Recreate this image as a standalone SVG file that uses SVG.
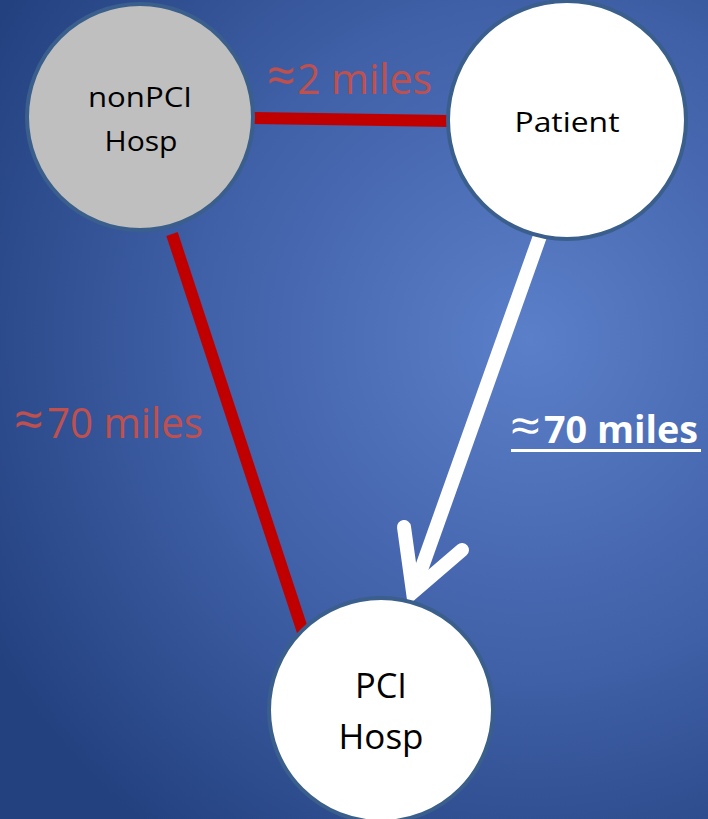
<svg xmlns="http://www.w3.org/2000/svg" width="708" height="819" viewBox="0 0 708 819">
<defs>
<radialGradient id="bg" cx="530" cy="340" r="620" gradientUnits="userSpaceOnUse">
<stop offset="0" stop-color="#5b7fc9"/>
<stop offset="0.55" stop-color="#3f5fa6"/>
<stop offset="1" stop-color="#23417f"/>
</radialGradient>
<style>
.node{stroke:#3a5f8c;stroke-width:4}
.nt{font-family:"Open Sans","Liberation Sans",sans-serif;fill:#000;text-anchor:middle}
.red{stroke:#c00000;stroke-width:12;fill:none}
.lbl{font-family:"Open Sans","Liberation Sans",sans-serif;fill:#c0504d}
</style>
</defs>
<rect width="708" height="819" fill="url(#bg)"/>
<g id="connectors">
<line class="red" x1="250" y1="118" x2="448" y2="121"/>
<line class="red" x1="172" y1="234" x2="303" y2="632"/>
<line x1="540" y1="236" x2="416" y2="584" stroke="#fff" stroke-width="14"/>
<polyline points="404,527 413,592 462,550" fill="none" stroke="#fff" stroke-width="14" stroke-linecap="round" stroke-linejoin="miter"/>
<text class="lbl" y="94" font-size="42"><tspan x="267" font-size="52" textLength="29" lengthAdjust="spacingAndGlyphs">≈</tspan><tspan x="297" textLength="135" lengthAdjust="spacingAndGlyphs">2 miles</tspan></text>
<text class="lbl" y="438" font-size="42"><tspan x="14" font-size="52" textLength="30" lengthAdjust="spacingAndGlyphs">≈</tspan><tspan x="47" textLength="156" lengthAdjust="spacingAndGlyphs">70 miles</tspan></text>
<text y="443" font-size="38" font-weight="bold" fill="#fff" font-family="'Open Sans','Liberation Sans',sans-serif"><tspan x="510" font-size="48" font-weight="normal" textLength="31" lengthAdjust="spacingAndGlyphs">≈</tspan><tspan x="544" textLength="154" lengthAdjust="spacingAndGlyphs">70 miles</tspan></text>
<rect x="511" y="449" width="190" height="3" fill="#fff"/>
</g>
<g id="nonPCI">
<circle class="node" cx="140" cy="117" r="113" fill="#bfbfbf"/>
<text class="nt" x="140" y="107" font-size="28" textLength="104" lengthAdjust="spacingAndGlyphs">nonPCI</text>
<text class="nt" x="141" y="151" font-size="28" textLength="73" lengthAdjust="spacingAndGlyphs">Hosp</text>
</g>
<g id="patient">
<circle class="node" cx="567" cy="120" r="119" fill="#fff"/>
<text class="nt" x="567" y="132" font-size="28" textLength="105" lengthAdjust="spacingAndGlyphs">Patient</text>
</g>
<g id="pci">
<circle class="node" cx="381" cy="710" r="112" fill="#fff"/>
<text class="nt" x="381" y="698" font-size="35" textLength="52" lengthAdjust="spacingAndGlyphs">PCI</text>
<text class="nt" x="381" y="749" font-size="35" textLength="85" lengthAdjust="spacingAndGlyphs">Hosp</text>
</g>
</svg>
